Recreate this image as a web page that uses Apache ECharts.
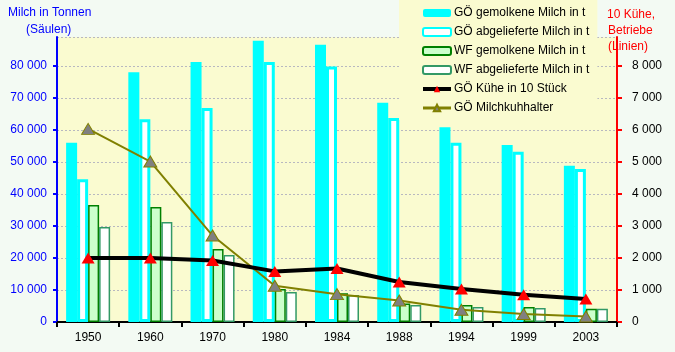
<!DOCTYPE html>
<html><head><meta charset="utf-8">
<script src="https://cdn.jsdelivr.net/npm/echarts@6/dist/echarts.min.js"></script>
<style>html,body{margin:0;padding:0;background:#f3faf3;}#c{width:675px;height:352px;}</style>
</head><body><div id="c"></div>
<script>
const categories = ['1950','1960','1970','1980','1984','1988','1994','1999','2003'];
const goGemolken = [56000, 78000, 81200, 87800, 86600, 68500, 60800, 55300, 48800];
const goAbgeliefert = [44600, 63300, 66800, 81200, 79800, 63700, 56000, 53200, 47800];
const wfGemolken = [36500, 35900, 22800, 10300, 8950, 5800, 5300, 4700, 4100];
const wfAbgeliefert = [29700, 31200, 20900, 9400, 8400, 5300, 4700, 4400, 4100];
const goKuehe10 = [2000, 2000, 1920, 1580, 1670, 1250, 1030, 850, 720];
const goHalter = [6030, 5010, 2700, 1130, 870, 670, 380, 250, 170];
const leftTicksMax = 89000, rightTicksMax = 8900;

function fmt(v){ const s = String(Math.round(v)); return s.replace(/\B(?=(\d{3})+(?!\d))/g, ' '); }
const FONT = 'Liberation Sans, Arial, sans-serif';
const chart = echarts.init(document.getElementById('c'));
chart.setOption({
  backgroundColor: '#f3faf3',
  animation: false,
  textStyle: { fontFamily: FONT, fontSize: 12 },
  grid: { left: 57, right: 58, top: 37, bottom: 30, show: true, backgroundColor: '#fafbd0', borderWidth: 0 },
  graphic: [
    { type: 'text', left: 8, top: 7, z: 100, style: { text: 'Milch in Tonnen', fill: '#0000ff', font: '12px Liberation Sans, Arial' } },
    { type: 'text', left: 26, top: 24, z: 100, style: { text: '(Säulen)', fill: '#0000ff', font: '12px Liberation Sans, Arial' } },
    { type: 'text', left: 607, top: 9, z: 100, style: { text: '10 Kühe,', fill: '#ff0000', font: '12px Liberation Sans, Arial' } },
    { type: 'text', left: 608, top: 25, z: 100, style: { text: 'Betriebe', fill: '#ff0000', font: '12px Liberation Sans, Arial' } },
    { type: 'text', left: 608, top: 41, z: 100, style: { text: '(Linien)', fill: '#ff0000', font: '12px Liberation Sans, Arial' } }
  ],
  legend: {
    orient: 'vertical', left: 399, top: 0,
    padding: [7, 8, 6, 22],
    backgroundColor: '#fafbd0',
    itemWidth: 28, itemHeight: 8, itemGap: 7,
    textStyle: { fontFamily: FONT, fontSize: 12, color: '#000', padding: [0, 0, 0, -2] },
    data: [
      'GÖ gemolkene Milch in t','GÖ abgelieferte Milch in t','WF gemolkene Milch in t','WF abgelieferte Milch in t',
      { name: 'GÖ Kühe in 10 Stück', lineStyle: { width: 4, color: '#000' } },
      { name: 'GÖ Milchkuhhalter', lineStyle: { width: 3, color: '#808000' } }
    ]
  },
  xAxis: {
    type: 'category', data: categories, boundaryGap: true,
    axisLine: { lineStyle: { color: '#000', width: 2 } },
    axisTick: { show: true, length: 5, lineStyle: { color: '#000', width: 2 } },
    axisLabel: { color: '#000', fontSize: 12, margin: 10 }
  },
  yAxis: [
    { type: 'value', min: 0, max: leftTicksMax, interval: 10000, position: 'left',
      axisLine: { show: true, lineStyle: { color: '#0000ff', width: 2 } },
      axisTick: { show: true, length: 4, lineStyle: { color: '#0000ff', width: 2 } },
      axisLabel: { color: '#0000ff', fontSize: 12, margin: 10, showMaxLabel: false, formatter: fmt },
      splitLine: { show: true, lineStyle: { color: '#b8b8c0', type: [2, 2], width: 1 } } },
    { type: 'value', min: 0, max: rightTicksMax, interval: 1000, position: 'right',
      axisLine: { show: true, lineStyle: { color: '#ff0000', width: 2 } },
      axisTick: { show: true, length: 5, lineStyle: { color: '#ff0000', width: 2 } },
      axisLabel: { color: '#000', fontSize: 12, margin: 15, showMaxLabel: false, formatter: fmt },
      splitLine: { show: false } }
  ],
  series: [
    { name: 'GÖ gemolkene Milch in t', type: 'bar', data: goGemolken, barWidth: 11, barGap: '0%',
      itemStyle: { color: '#00ffff' } },
    { name: 'GÖ abgelieferte Milch in t', type: 'bar', data: goAbgeliefert, barWidth: 11, barGap: '0%',
      itemStyle: { color: '#ffffff', borderColor: '#00ffff', borderWidth: 3 } },
    { name: 'WF gemolkene Milch in t', type: 'bar', data: wfGemolken, barWidth: 11, barGap: '0%',
      itemStyle: { color: '#ccffcc', borderColor: '#008000', borderWidth: 1.5 } },
    { name: 'WF abgelieferte Milch in t', type: 'bar', data: wfAbgeliefert, barWidth: 11, barGap: '0%',
      itemStyle: { color: '#ffffff', borderColor: '#339966', borderWidth: 1.5 } },
    { name: 'GÖ Milchkuhhalter', type: 'line', yAxisIndex: 1, data: goHalter,
      symbol: 'triangle', symbolSize: [13, 11], showAllSymbol: true,
      lineStyle: { color: '#808000', width: 2 },
      itemStyle: { color: '#808080', borderColor: '#808000', borderWidth: 1 } },
    { name: 'GÖ Kühe in 10 Stück', type: 'line', yAxisIndex: 1, data: goKuehe10,
      symbol: 'triangle', symbolSize: [13, 11], showAllSymbol: true,
      lineStyle: { color: '#000000', width: 4 },
      itemStyle: { color: '#ff0000', borderWidth: 0 } }
  ]
});
</script></body></html>
